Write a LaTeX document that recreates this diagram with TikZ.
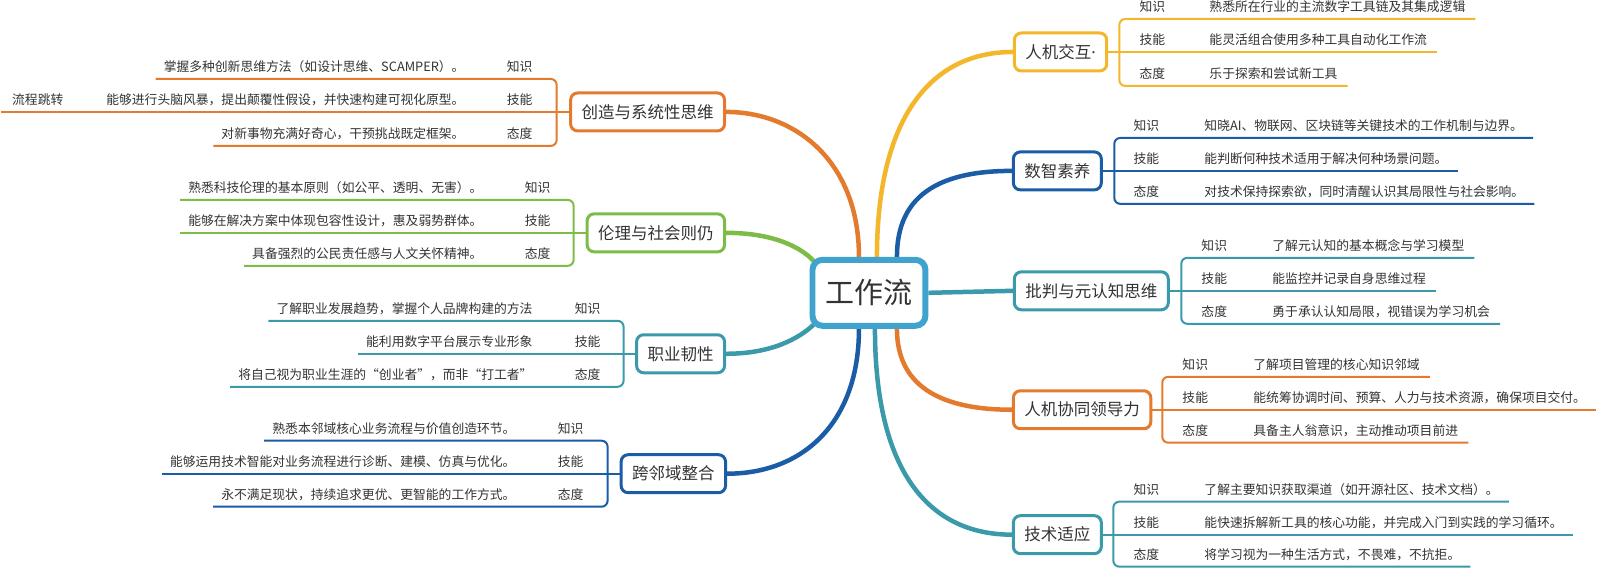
\documentclass[tikz,border=0pt]{standalone}
\usepackage{fontspec}
\setmainfont{Noto Sans CJK SC}
\newfontfamily\latinfont{Noto Sans}
\usepackage{xcolor}
\usetikzlibrary{positioning,calc,backgrounds}

\definecolor{cOrange}{HTML}{E47A2E}
\definecolor{cYellow}{HTML}{F4B62A}
\definecolor{cNavy}{HTML}{1A5CA6}
\definecolor{cGreen}{HTML}{7DBD47}
\definecolor{cTeal}{HTML}{3A9AAA}
\definecolor{cSky}{HTML}{3FA3CE}
\definecolor{cText}{HTML}{333333}

\begin{document}
\begin{tikzpicture}[x=1pt,y=-1pt,
    root/.style={draw=cSky, line width=6pt, rounded corners=10pt, fill=white,
        minimum width=113pt, minimum height=66pt, text=cText,
        font=\fontsize{29}{34}\selectfont},
    topic/.style={draw=#1, line width=3pt, rounded corners=7pt, fill=white,
        minimum height=38pt, inner xsep=11pt, text=cText,
        font=\fontsize{16.5}{20}\selectfont},
    leaf/.style={inner sep=0pt, text=cText, font=\fontsize{12.8}{15}\selectfont},
    link/.style={draw=#1, line width=4.5pt},
    rule/.style={draw=#1, line width=2pt, rounded corners=6pt}]

    % Central topic
    \node[root] (root) at (868.5,293) {工作流};

    % Left topics
    \node[topic=cOrange, anchor=east] (cr) at (725.5,112) {创造与系统性思维};
    \node[topic=cGreen, anchor=east] (ll) at (725.5,233) {伦理与社会则仍};
    \node[topic=cTeal, anchor=east] (zy) at (725.5,354) {职业韧性};
    \node[topic=cNavy, anchor=east] (ky) at (726.5,474) {跨邻域整合};

    % Right topics
    \node[topic=cYellow, anchor=west] (jh) at (1012.5,52) {人机交互{\latinfont ·}};
    \node[topic=cNavy, anchor=west] (sz) at (1011.5,171) {数智素养};
    \node[topic=cTeal, anchor=west] (pp) at (1012.5,291) {批判与元认知思维};
    \node[topic=cOrange, anchor=west] (xt) at (1011.5,410) {人机协同领导力};
    \node[topic=cTeal, anchor=west] (sy) at (1011.5,535) {技术适应};

    % Links to the central topic
    \begin{scope}[on background layer]
        \fill[white] (0,0) rectangle (1600,569);
        \draw[link=cOrange] ([xshift=-10pt]root.north) .. controls +(0,-95) and +(70,0) .. (cr.east);
        \draw[link=cGreen] ([shift={(4,4)}]root.north west) .. controls +(-14,-15) and +(45,0) .. (ll.east);
        \draw[link=cTeal] ([shift={(4,-4)}]root.south west) .. controls +(-15,14) and +(45,0) .. (zy.east);
        \draw[link=cNavy] ([xshift=-10pt]root.south) .. controls +(0,95) and +(75,0) .. (ky.east);
        \draw[link=cYellow] ([xshift=8pt]root.north) .. controls +(0,-135) and +(-85,0) .. (jh.west);
        \draw[link=cNavy] ([xshift=28pt]root.north) .. controls +(0,-60) and +(-75,0) .. (sz.west);
        \draw[link=cTeal] (root.east) -- (pp.west);
        \draw[link=cOrange] ([xshift=28pt]root.south) .. controls +(0,55) and +(-75,0) .. (xt.west);
        \draw[link=cTeal] ([xshift=6pt]root.south) .. controls +(0,140) and +(-85,0) .. (sy.west);
    \end{scope}

    % Creativity
    \node[leaf, anchor=base] (crk) at (519,72) {知识};
    \node[leaf, anchor=base] (crj) at (519,105) {技能};
    \node[leaf, anchor=base] (crt) at (519,139) {态度};
    \node[leaf, anchor=base east] (cr1) at (464,72) {掌握多种创新思维方法（如设计思维、SCAMPER）。};
    \node[leaf, anchor=base east] (cr2) at (464,105) {能够进行头脑风暴，提出颠覆性假设，并快速构建可视化原型。};
    \node[leaf, anchor=base east] (cr3) at (464,139) {对新事物充满好奇心，干预挑战既定框架。};
    \node[leaf, anchor=base west] (cr0) at (11,105) {流程跳转};
    \draw[rule=cOrange] ($(cr1.base west)+(-8,7)$) -- (556,79) -- (556,146) -- ($(cr3.base west)+(-8,7)$);
    \draw[rule=cOrange] ($(cr0.base west)+(-11,7)$) -- (cr.west);

    % Ethics
    \node[leaf, anchor=base] (llk) at (537,193) {知识};
    \node[leaf, anchor=base] (llj) at (537,226) {技能};
    \node[leaf, anchor=base] (llt) at (537,259) {态度};
    \node[leaf, anchor=base east] (ll1) at (482,193) {熟悉科技伦理的基本原则（如公平、透明、无害）。};
    \node[leaf, anchor=base east] (ll2) at (482,226) {能够在解决方案中体现包容性设计，惠及弱势群体。};
    \node[leaf, anchor=base east] (ll3) at (482,259) {具备强烈的公民责任感与人文关怀精神。};
    \draw[rule=cGreen] ($(ll1.base west)+(-8,7)$) -- (573,200) -- (573,266) -- ($(ll3.base west)+(-8,7)$);
    \draw[rule=cGreen] ($(ll2.base west)+(-8,7)$) -- (ll.west);

    % Career resilience
    \node[leaf, anchor=base] (zyk) at (587,314) {知识};
    \node[leaf, anchor=base] (zyj) at (587,347) {技能};
    \node[leaf, anchor=base] (zyt) at (587,380) {态度};
    \node[leaf, anchor=base east] (zy1) at (532,314) {了解职业发展趋势，掌握个人品牌构建的方法};
    \node[leaf, anchor=base east] (zy2) at (532,347) {能利用数字平台展示专业形象};
    \node[leaf, anchor=base east] (zy3) at (532,380) {将自己视为职业生涯的“创业者”，而非“打工者”};
    \draw[rule=cTeal] ($(zy1.base west)+(-8,7)$) -- (623,321) -- (623,387) -- ($(zy3.base west)+(-8,7)$);
    \draw[rule=cTeal] ($(zy2.base west)+(-8,7)$) -- (zy.west);

    % Cross-domain integration
    \node[leaf, anchor=base] (kyk) at (570,434) {知识};
    \node[leaf, anchor=base] (kyj) at (570,467) {技能};
    \node[leaf, anchor=base] (kyt) at (570,500) {态度};
    \node[leaf, anchor=base east] (ky1) at (515,434) {熟悉本邻域核心业务流程与价值创造环节。};
    \node[leaf, anchor=base east] (ky2) at (515,467) {能够运用技术智能对业务流程进行诊断、建模、仿真与优化。};
    \node[leaf, anchor=base east] (ky3) at (515,500) {永不满足现状，持续追求更优、更智能的工作方式。};
    \draw[rule=cNavy] ($(ky1.base west)+(-8,7)$) -- (607,441) -- (607,507) -- ($(ky3.base west)+(-8,7)$);
    \draw[rule=cNavy] ($(ky2.base west)+(-8,7)$) -- (ky.west);

    % Human-machine interaction
    \node[leaf, anchor=base] (jhk) at (1152,12) {知识};
    \node[leaf, anchor=base] (jhj) at (1152,45) {技能};
    \node[leaf, anchor=base] (jht) at (1152,79) {态度};
    \node[leaf, anchor=base west] (jh1) at (1209,12) {熟悉所在行业的主流数字工具链及其集成逻辑};
    \node[leaf, anchor=base west] (jh2) at (1209,45) {能灵活组合使用多种工具自动化工作流};
    \node[leaf, anchor=base west] (jh3) at (1209,79) {乐于探索和尝试新工具};
    \draw[rule=cYellow] ($(jh1.base east)+(10,7)$) -- (1119,19) -- (1119,86) -- ($(jh3.base east)+(10,7)$);
    \draw[rule=cYellow] (jh.east) -- ($(jh2.base east)+(10,7)$);

    % Digital literacy
    \node[leaf, anchor=base] (szk) at (1146,131) {知识};
    \node[leaf, anchor=base] (szj) at (1146,164) {技能};
    \node[leaf, anchor=base] (szt) at (1146,197) {态度};
    \node[leaf, anchor=base west] (sz1) at (1204,131) {知晓AI、物联网、区块链等关键技术的工作机制与边界。};
    \node[leaf, anchor=base west] (sz2) at (1204,164) {能判断何种技术适用于解决何种场景问题。};
    \node[leaf, anchor=base west] (sz3) at (1204,197) {对技术保持探索欲，同时清醒认识其局限性与社会影响。};
    \draw[rule=cNavy] ($(sz1.base east)+(10,7)$) -- (1114,138) -- (1114,204) -- ($(sz3.base east)+(10,7)$);
    \draw[rule=cNavy] (sz.east) -- ($(sz2.base east)+(10,7)$);

    % Critical thinking
    \node[leaf, anchor=base] (ppk) at (1214,251) {知识};
    \node[leaf, anchor=base] (ppj) at (1214,284) {技能};
    \node[leaf, anchor=base] (ppt) at (1214,317) {态度};
    \node[leaf, anchor=base west] (pp1) at (1272,251) {了解元认知的基本概念与学习模型};
    \node[leaf, anchor=base west] (pp2) at (1272,284) {能监控并记录自身思维过程};
    \node[leaf, anchor=base west] (pp3) at (1272,317) {勇于承认认知局限，视错误为学习机会};
    \draw[rule=cTeal] ($(pp1.base east)+(10,7)$) -- (1181,258) -- (1181,324) -- ($(pp3.base east)+(10,7)$);
    \draw[rule=cTeal] (pp.east) -- ($(pp2.base east)+(10,7)$);

    % Collaborative leadership
    \node[leaf, anchor=base] (xtk) at (1195,370) {知识};
    \node[leaf, anchor=base] (xtj) at (1195,403) {技能};
    \node[leaf, anchor=base] (xtt) at (1195,436) {态度};
    \node[leaf, anchor=base west] (xt1) at (1253,370) {了解项目管理的核心知识邻域};
    \node[leaf, anchor=base west] (xt2) at (1253,403) {能统筹协调时间、预算、人力与技术资源，确保项目交付。};
    \node[leaf, anchor=base west] (xt3) at (1253,436) {具备主人翁意识，主动推动项目前进};
    \draw[rule=cOrange] ($(xt1.base east)+(10,7)$) -- (1162,377) -- (1162,443) -- ($(xt3.base east)+(10,7)$);
    \draw[rule=cOrange] (xt.east) -- ($(xt2.base east)+(10,7)$);

    % Tech adaptation
    \node[leaf, anchor=base] (syk) at (1146,495) {知识};
    \node[leaf, anchor=base] (syj) at (1146,528) {技能};
    \node[leaf, anchor=base] (syt) at (1146,560) {态度};
    \node[leaf, anchor=base west] (sy1) at (1204,495) {了解主要知识获取渠道（如开源社区、技术文档）。};
    \node[leaf, anchor=base west] (sy2) at (1204,528) {能快速拆解新工具的核心功能，并完成入门到实践的学习循环。};
    \node[leaf, anchor=base west] (sy3) at (1204,560) {将学习视为一种生活方式，不畏难，不抗拒。};
    \draw[rule=cTeal] ($(sy1.base east)+(10,7)$) -- (1113,502) -- (1113,567) -- ($(sy3.base east)+(10,7)$);
    \draw[rule=cTeal] (sy.east) -- ($(sy2.base east)+(10,7)$);

    \useasboundingbox (0,0) rectangle (1600,569);
\end{tikzpicture}
\end{document}
